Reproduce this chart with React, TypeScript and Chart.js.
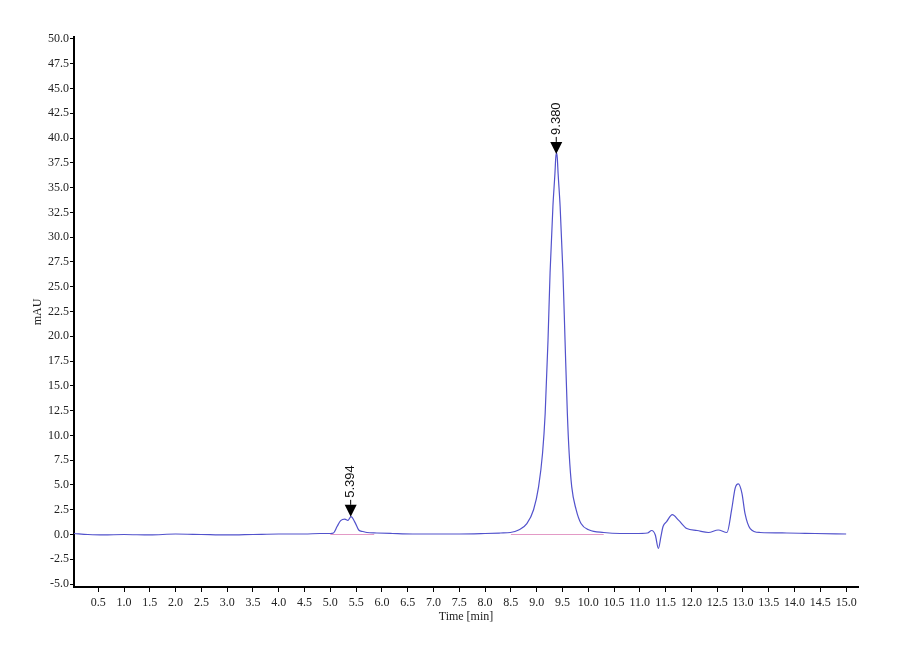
import Chart from 'chart.js/auto';
import { useEffect, useRef } from 'react';

// retention time [min] and detector signal [mAU]
const times = [
  0.03, 0.3, 0.6, 1.0, 1.5, 2.0, 2.5, 3.0, 3.5, 4.0, 4.5, 4.8, 5.0, 5.06, 5.13, 5.2, 5.28, 5.34, 5.4,
  5.48, 5.55, 5.63, 5.71, 5.9, 6.2, 6.6, 7.0, 7.5, 8.0, 8.3, 8.49, 8.65, 8.81, 8.94, 9.037, 9.114,
  9.165, 9.22, 9.26, 9.315, 9.354, 9.37, 9.385, 9.4, 9.416, 9.455, 9.51, 9.55, 9.595, 9.63, 9.68,
  9.765, 9.86, 10.02, 10.3, 10.62, 10.9, 11.15, 11.23, 11.3, 11.36, 11.41, 11.45, 11.52, 11.63, 11.75,
  11.91, 12.11, 12.33, 12.52, 12.69, 12.78, 12.85, 12.91, 12.98, 13.04, 13.14, 13.33, 13.85, 14.4,
  15.0,
];
const signal = [
  0.1, 0.0, -0.05, 0.0, -0.05, 0.05, 0.0, -0.05, 0.0, 0.05, 0.05, 0.1, 0.1, 0.15, 0.8, 1.4, 1.55,
  1.42, 1.8, 1.2, 0.45, 0.3, 0.2, 0.15, 0.1, 0.05, 0.05, 0.05, 0.1, 0.15, 0.2, 0.45, 1.1, 2.5, 4.8,
  8.2, 12.2, 19.6, 26.4, 33.1, 36.4, 38.0, 38.5, 38.0, 36.4, 33.1, 26.4, 19.6, 12.2, 8.2, 4.8, 2.5,
  1.1, 0.45, 0.2, 0.1, 0.1, 0.15, 0.4, -0.05, -1.4, -0.2, 0.8, 1.3, 2.0, 1.45, 0.6, 0.4, 0.2, 0.45,
  0.2, 2.5, 4.7, 5.1, 4.15, 2.1, 0.6, 0.2, 0.15, 0.1, 0.05,
];

// integration baselines (start, end) per peak
const baseStarts = [5.0, 8.5];
const baseEnds = [5.85, 10.3];

// peak annotations
const peakTimes = [5.394, 9.38];
const peakTops = [1.78, 38.4];
const peakLabels = ['5.394', '9.380'];

const xTicks = [
  0.5, 1.0, 1.5, 2.0, 2.5, 3.0, 3.5, 4.0, 4.5, 5.0, 5.5, 6.0, 6.5, 7.0, 7.5, 8.0, 8.5, 9.0, 9.5, 10.0,
  10.5, 11.0, 11.5, 12.0, 12.5, 13.0, 13.5, 14.0, 14.5, 15.0,
];
const yTicks = [
  -5, -2.5, 0, 2.5, 5, 7.5, 10, 12.5, 15, 17.5, 20, 22.5, 25, 27.5, 30, 32.5, 35, 37.5, 40, 42.5, 45,
  47.5, 50,
];

const peakMarkers = {
  id: 'peakMarkers',
  afterDatasetsDraw(chart: any) {
    const { ctx, scales } = chart;
    peakTimes.forEach((t, i) => {
      const px = scales.x.getPixelForValue(t);
      const py = scales.y.getPixelForValue(peakTops[i]);
      ctx.save();
      // arrow head
      ctx.fillStyle = '#000';
      ctx.beginPath();
      ctx.moveTo(px, py);
      ctx.lineTo(px - 6, py - 12);
      ctx.lineTo(px + 6, py - 12);
      ctx.closePath();
      ctx.fill();
      // leader
      ctx.strokeStyle = '#000';
      ctx.lineWidth = 1;
      ctx.beginPath();
      ctx.moveTo(px, py - 12);
      ctx.lineTo(px, py - 17);
      ctx.stroke();
      // label
      ctx.translate(px, py - 19);
      ctx.rotate(-Math.PI / 2);
      ctx.font = '13px "Liberation Sans"';
      ctx.fillStyle = '#111';
      ctx.textAlign = 'left';
      ctx.textBaseline = 'middle';
      ctx.fillText(peakLabels[i], 0, 0);
      ctx.restore();
    });
  },
};

const App = () => {
  const chartRef = useRef<HTMLCanvasElement>(null);
  const chartInstanceRef = useRef<Chart | null>(null);

  useEffect(() => {
    document.body.style.margin = '0';
    const canvas = chartRef.current;
    if (!canvas) return;
    const ctx = canvas.getContext('2d');
    if (!ctx) return;

    if (chartInstanceRef.current) {
      chartInstanceRef.current.destroy();
    }

    const tickFont = { family: '"Liberation Serif"', size: 12 };

    chartInstanceRef.current = new Chart(ctx, {
      type: 'line',
      data: {
        datasets: [
          {
            label: 'trace',
            data: times.map((t, i) => ({ x: t, y: signal[i] })),
            borderColor: '#5252cc',
            borderWidth: 1.2,
            pointRadius: 0,
            cubicInterpolationMode: 'monotone',
            order: 0,
          },
          ...baseStarts.map((s, i) => ({
            label: 'baseline ' + (i + 1),
            data: [
              { x: s, y: 0 },
              { x: baseEnds[i], y: 0 },
            ],
            borderColor: '#e39ac6',
            borderWidth: 1.2,
            pointRadius: 0,
            order: 1,
          })),
        ],
      },
      options: {
        animation: false,
        responsive: true,
        maintainAspectRatio: false,
        layout: { padding: { left: 0, top: 37, right: 42, bottom: 0 } },
        plugins: {
          legend: { display: false },
          tooltip: { enabled: false },
        },
        scales: {
          x: {
            type: 'linear',
            min: 0.03,
            max: 15.23,
            afterFit: (scale: any) => {
              scale.height = 73;
            },
            afterBuildTicks: (scale: any) => {
              scale.ticks = xTicks.map((v) => ({ value: v }));
            },
            ticks: {
              autoSkip: false,
              maxRotation: 0,
              padding: 4,
              color: '#222',
              font: tickFont,
              callback: (v: any) => Number(v).toFixed(1),
            },
            grid: {
              drawOnChartArea: false,
              drawTicks: true,
              tickLength: 5,
              color: '#000',
            },
            border: { display: true, color: '#000', width: 2 },
            title: {
              display: true,
              text: 'Time [min]',
              color: '#222',
              font: tickFont,
              padding: { top: 0, bottom: 36 },
            },
          },
          y: {
            type: 'linear',
            min: -5.3,
            max: 50.2,
            afterFit: (scale: any) => {
              scale.width = 74;
            },
            afterBuildTicks: (scale: any) => {
              scale.ticks = yTicks.map((v) => ({ value: v }));
            },
            ticks: {
              autoSkip: false,
              padding: 1,
              color: '#222',
              font: tickFont,
              callback: (v: any) => Number(v).toFixed(1),
            },
            grid: {
              drawOnChartArea: false,
              drawTicks: true,
              tickLength: 4,
              color: '#000',
            },
            border: { display: true, color: '#000', width: 2 },
            title: {
              display: true,
              text: 'mAU',
              color: '#222',
              font: tickFont,
              padding: { top: 31, bottom: 0 },
            },
          },
        },
      },
      plugins: [peakMarkers],
    });

    return () => {
      if (chartInstanceRef.current) {
        chartInstanceRef.current.destroy();
        chartInstanceRef.current = null;
      }
    };
  }, []);

  return (
    <div style={{ position: 'relative', width: '900px', height: '660px', background: '#fff' }}>
      <canvas ref={chartRef}></canvas>
    </div>
  );
};

export default App;
